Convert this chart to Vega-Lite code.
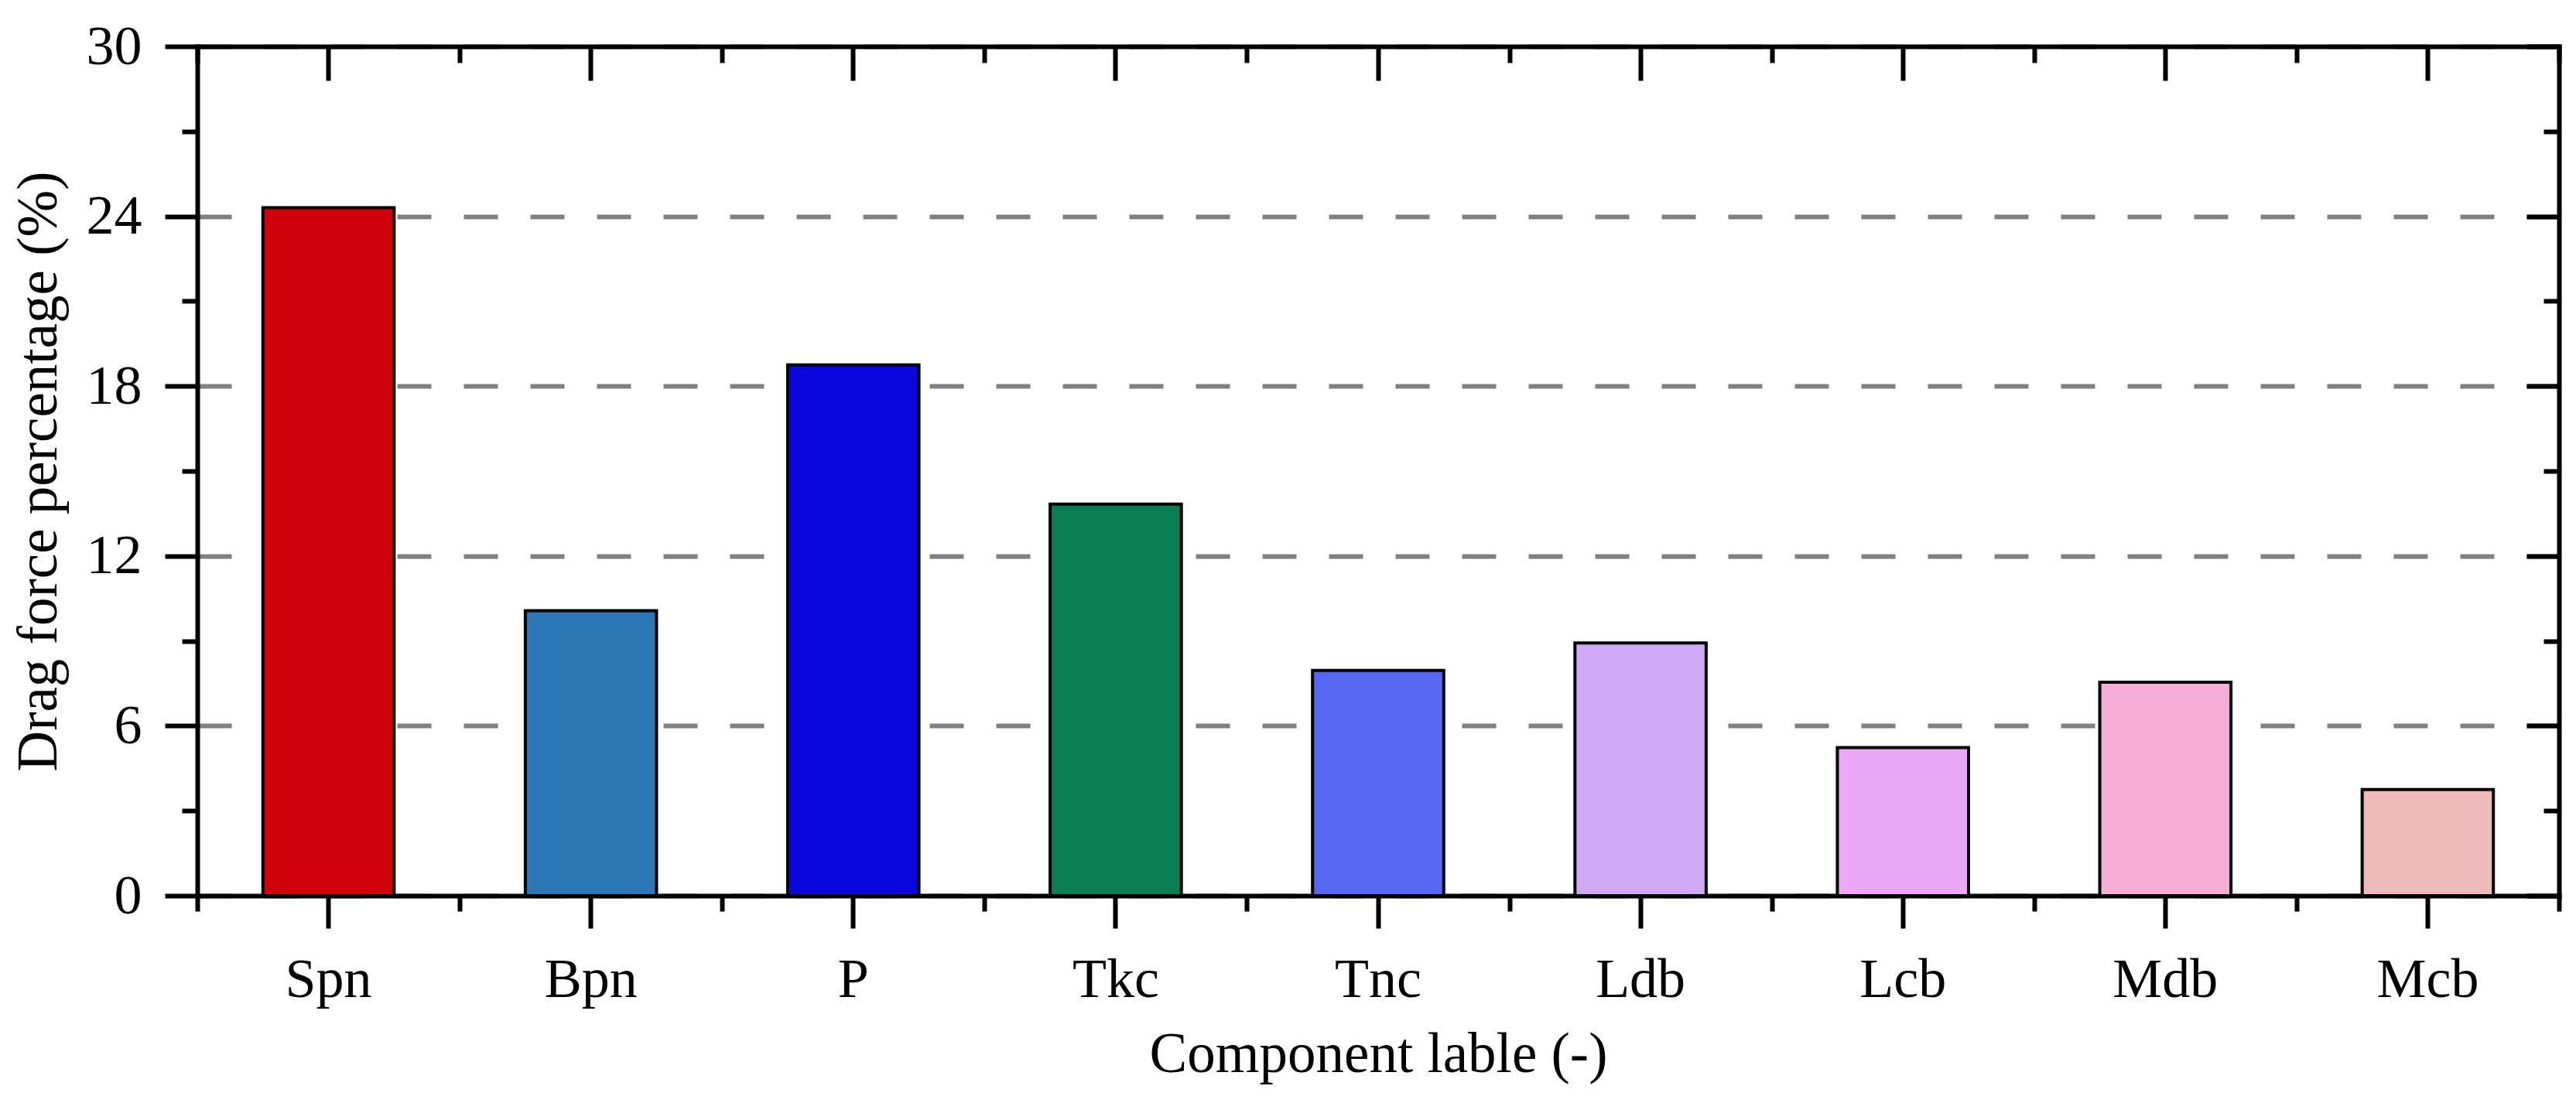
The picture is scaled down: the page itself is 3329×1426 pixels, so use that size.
{
  "$schema": "https://vega.github.io/schema/vega-lite/v6.json",
  "width": 3052,
  "height": 1098,
  "autosize": {"type": "none"},
  "padding": {"left": 255, "top": 60, "right": 22, "bottom": 268},
  "background": "white",
  "config": {
    "view": {"stroke": null},
    "font": "Liberation Serif",
    "axis": {
      "domainColor": "black",
      "domainWidth": 6,
      "domainCap": "square",
      "tickColor": "black",
      "tickWidth": 6,
      "labelFont": "Liberation Serif",
      "titleFont": "Liberation Serif",
      "labelColor": "black",
      "titleColor": "black",
      "labelFontSize": 72,
      "titleFontSize": 73,
      "titleFontWeight": "normal",
      "grid": false
    }
  },
  "data": {
    "values": [
      {"component": "Spn", "value": 24.3},
      {"component": "Bpn", "value": 10.07},
      {"component": "P", "value": 18.75},
      {"component": "Tkc", "value": 13.83},
      {"component": "Tnc", "value": 7.96},
      {"component": "Ldb", "value": 8.93},
      {"component": "Lcb", "value": 5.23},
      {"component": "Mdb", "value": 7.54},
      {"component": "Mcb", "value": 3.75}
    ]
  },
  "resolve": {"axis": {"x": "independent", "y": "independent"}},
  "layer": [
    {
      "mark": {"type": "bar", "width": {"band": 0.5}, "stroke": "black", "strokeWidth": 4},
      "encoding": {
        "x": {
          "field": "component", "type": "nominal", "sort": null,
          "scale": {"type": "band", "paddingInner": 0, "paddingOuter": 0},
          "axis": {
            "orient": "bottom", "title": "Component lable (-)", "labelAngle": 0,
            "tickSize": 42, "labelPadding": 31, "titlePadding": 25
          }
        },
        "y": {
          "field": "value", "type": "quantitative",
          "scale": {"domain": [0, 30], "nice": false},
          "axis": {
            "orient": "left", "title": "Drag force percentage (%)",
            "values": [0, 6, 12, 18, 24, 30], "tickSize": 42, "labelPadding": 30, "titlePadding": 24,
            "grid": true, "gridColor": "#808080", "gridWidth": 6, "gridDash": [44, 42]
          }
        },
        "color": {
          "field": "component", "type": "nominal", "legend": null,
          "scale": {
            "domain": ["Spn", "Bpn", "P", "Tkc", "Tnc", "Ldb", "Lcb", "Mdb", "Mcb"],
            "range": ["#d2000a", "#2b76b4", "#0808dc", "#087f55", "#5668f2", "#cfa8f6", "#eba8f6", "#f6aed6", "#eebaba"]
          }
        }
      }
    },
    {
      "mark": {"type": "bar", "width": {"band": 0.5}, "opacity": 0},
      "encoding": {
        "x": {
          "field": "component", "type": "nominal", "sort": null,
          "axis": {"orient": "bottom", "title": null, "labels": false, "domain": false, "tickBand": "extent", "tickSize": 20}
        },
        "y": {
          "field": "value", "type": "quantitative",
          "axis": {"orient": "left", "title": null, "labels": false, "domain": false, "values": [3, 9, 15, 21, 27], "tickSize": 20}
        }
      }
    },
    {
      "mark": {"type": "bar", "width": {"band": 0.5}, "opacity": 0},
      "encoding": {
        "x": {
          "field": "component", "type": "nominal", "sort": null,
          "axis": {"orient": "top", "title": null, "labels": false, "tickSize": -44}
        },
        "y": {
          "field": "value", "type": "quantitative",
          "axis": {"orient": "right", "title": null, "labels": false, "values": [0, 6, 12, 18, 24, 30], "tickSize": -42}
        }
      }
    },
    {
      "mark": {"type": "bar", "width": {"band": 0.5}, "opacity": 0},
      "encoding": {
        "x": {
          "field": "component", "type": "nominal", "sort": null,
          "axis": {"orient": "top", "title": null, "labels": false, "domain": false, "tickBand": "extent", "tickSize": -21}
        },
        "y": {
          "field": "value", "type": "quantitative",
          "axis": {"orient": "right", "title": null, "labels": false, "domain": false, "values": [3, 9, 15, 21, 27], "tickSize": -20}
        }
      }
    }
  ]
}
